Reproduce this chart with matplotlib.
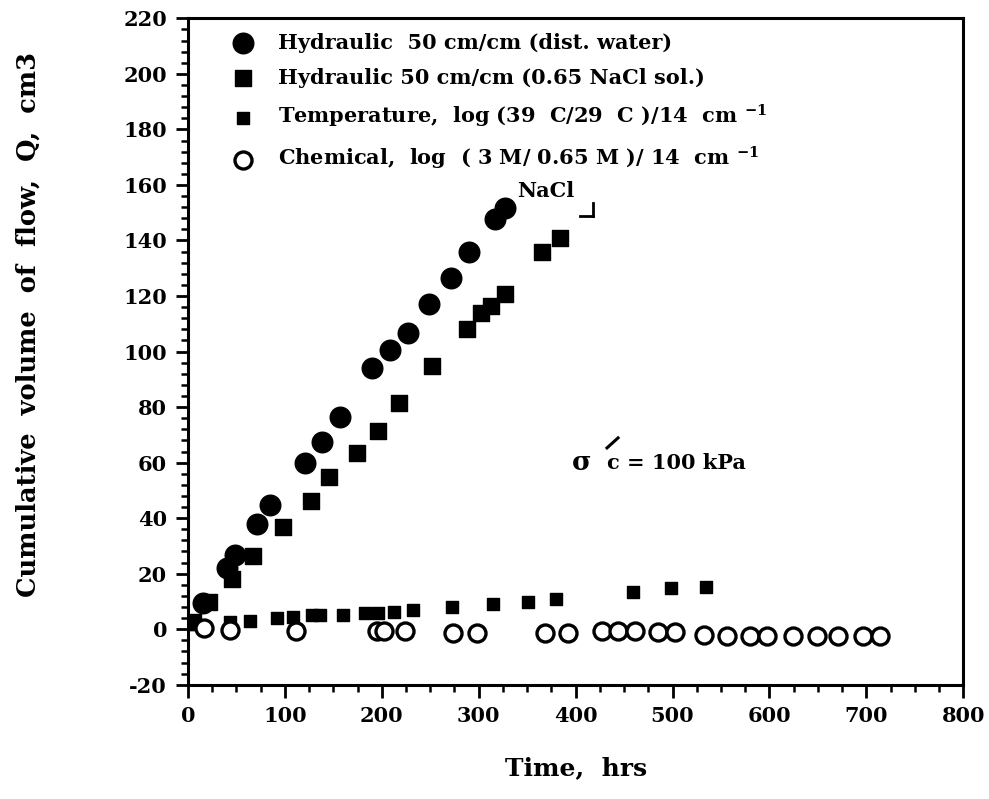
import numpy as np
import matplotlib.pyplot as plt
from matplotlib.ticker import MultipleLocator

# Hydraulic 50 cm/cm (dist. water) - filled circles
hyd_water_t = [15.5, 40, 48.5, 71, 84.6, 121, 138, 157, 190, 209, 227, 249, 271, 290, 317, 327]
hyd_water_q = [9.4, 22, 26.6, 38, 44.6, 60, 67.4, 76.5, 94, 100.5, 106.6, 117, 126.4, 135.7, 147.6, 151.6]

# Hydraulic 50 cm/cm (0.65 NaCl sol.) - filled squares
hyd_nacl_t = [5, 22, 45, 67, 98, 127, 146, 174, 196, 218, 252, 288, 302, 313, 327, 365, 384]
hyd_nacl_q = [2.5, 9.8, 18, 26.3, 36.7, 46, 55, 63.5, 71.4, 81.5, 94.8, 108, 114, 116.4, 120.7, 135.9, 141]

# Temperature gradient - smaller squares
temp_t = [0, 43, 64, 92, 108, 128, 136, 160, 183, 196, 213, 232, 272, 315, 351, 380, 459, 498, 535]
temp_q = [2.0, 2.7, 3.0, 4.1, 4.5, 5.2, 5.2, 5.2, 5.9, 5.9, 6.3, 7.0, 8.1, 9.1, 9.9, 10.9, 13.5, 14.9, 15.3]

# Chemical gradient - open circles
chem_t = [17, 43, 112, 195, 202, 224, 274, 298, 368, 392, 427, 444, 461, 485, 503,
          532, 556, 580, 597, 624, 649, 671, 697, 714]
chem_q = [0.5, -0.2, -0.6, -0.7, -0.7, -0.7, -1.2, -1.2, -1.3, -1.3, -0.8, -0.8, -0.8, -1.0, -1.0,
          -2.2, -2.3, -2.3, -2.3, -2.3, -2.3, -2.3, -2.3, -2.3]

labels = ["Hydraulic  50 cm/cm (dist. water)",
          "Hydraulic 50 cm/cm (0.65 NaCl sol.)",
          r"Temperature,  log (39  C/29  C )/14  cm $^{\mathbf{-1}}$",
          r"Chemical,  log  ( 3 M/ 0.65 M )/ 14  cm $^{\mathbf{-1}}$"]

plt.rcParams['font.family'] = ['DejaVu Serif']
plt.rcParams['font.weight'] = 'bold'
plt.rcParams['mathtext.fontset'] = 'dejavuserif'
plt.rcParams['axes.unicode_minus'] = False

fig = plt.figure(figsize=(9.89, 7.99), dpi=100)
ax = fig.add_axes([0.19, 0.143, 0.784, 0.834])

ax.scatter(hyd_water_t, hyd_water_q, s=220, marker='o', color='black', label=labels[0], zorder=3)
ax.scatter(hyd_nacl_t, hyd_nacl_q, s=130, marker='s', color='black', label=labels[1], zorder=3)
ax.scatter(temp_t, temp_q, s=85, marker='s', color='black', label=labels[2], zorder=3)
ax.scatter(chem_t, chem_q, s=150, marker='o', facecolor='white', edgecolor='black',
           linewidth=2.4, label=labels[3], zorder=3)

ax.set_xlim(0, 800)
ax.set_ylim(-20, 220)
ax.xaxis.set_major_locator(MultipleLocator(100))
ax.xaxis.set_minor_locator(MultipleLocator(25))
ax.yaxis.set_major_locator(MultipleLocator(20))
ax.yaxis.set_minor_locator(MultipleLocator(4))
ax.tick_params(which='major', direction='out', length=9, width=2, labelsize=15, pad=6)
ax.tick_params(which='minor', direction='out', length=5, width=1.8)
for sp in ax.spines.values():
    sp.set_linewidth(2.2)
for lab in ax.get_xticklabels() + ax.get_yticklabels():
    lab.set_fontweight('bold')

ax.set_xlabel("Time,  hrs", fontsize=18, fontweight='bold', labelpad=22)
ax.set_ylabel("Cumulative  volume  of  flow,  Q,  cm3", fontsize=18.5, fontweight='bold')
ax.yaxis.set_label_coords(-0.19, 0.54)

leg = ax.legend(loc='upper left', bbox_to_anchor=(0.025, 1.0), frameon=False, fontsize=15,
                handletextpad=0.7, labelspacing=0.72, borderaxespad=0.3)
for t in leg.get_texts():
    t.set_fontweight('bold')

ax.text(340, 158, "NaCl", fontsize=15, fontweight='bold', ha='left', va='center')
ax.plot([405, 418], [149, 149], color='black', lw=2)
ax.plot([418, 418], [149, 153.5], color='black', lw=2)

ax.text(396, 60, "σ", fontsize=19, ha='left', va='center')
ax.text(432, 60, "c = 100 kPa", fontsize=15, fontweight='bold', ha='left', va='center')
ax.plot([432.4, 443.8], [65.3, 68.9], color='black', lw=2.2)

fig.savefig("out.png", dpi=100)
